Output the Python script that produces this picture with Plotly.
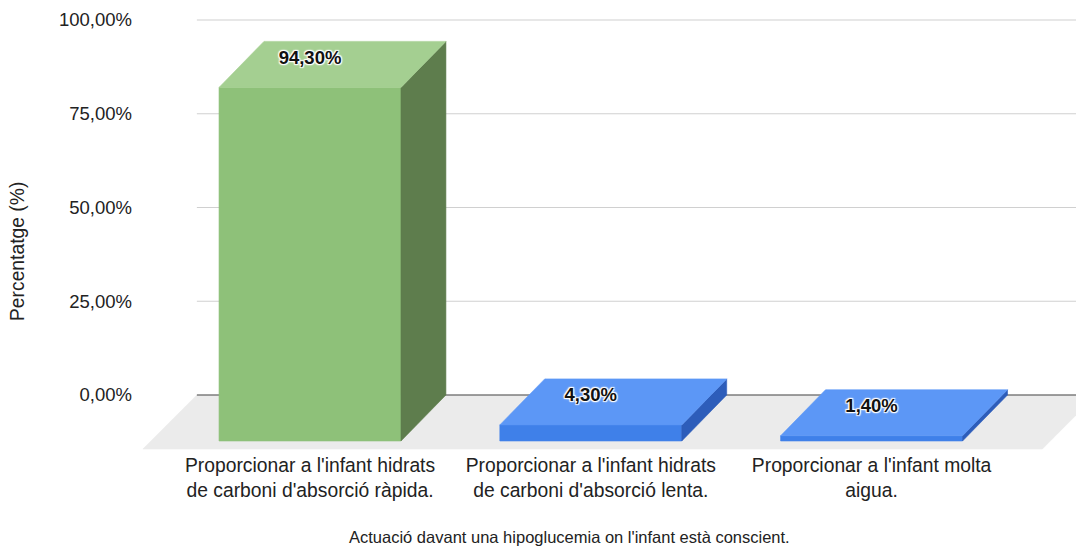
import plotly.graph_objects as go

# Data
categories = [
    "Proporcionar a l'infant hidrats<br>de carboni d'absorció ràpida.",
    "Proporcionar a l'infant hidrats<br>de carboni d'absorció lenta.",
    "Proporcionar a l'infant molta<br>aigua.",
]
values = [94.3, 4.3, 1.4]
y_ticks = [0, 25, 50, 75, 100]
y_tick_labels = [f"{t:.2f}".replace(".", ",") + "%" for t in y_ticks]

# Palette per bar: (front, top, side)
palettes = [
    ("#8ec179", "#a4cf91", "#5e7d4d"),
    ("#3f80e9", "#5c97f6", "#2d5dba"),
    ("#3f80e9", "#5c97f6", "#2d5dba"),
]

# Oblique 3D geometry (data units)
bar_w = 0.648        # front face width
depth_x = 0.160      # horizontal depth shift
depth_y = 12.27      # vertical depth shift
floor_dx = 0.192
floor_dy = 14.4
floor_left = -0.403
floor_right = 2.80

x_range = [-0.6055, 2.728]
y_range = [-15.2, 102.67]

fig = go.Figure()


def face(xs, ys, color):
    fig.add_trace(go.Scatter(
        x=xs + [xs[0]], y=ys + [ys[0]], mode="lines", fill="toself",
        fillcolor=color, line=dict(color=color, width=0.6),
        hoverinfo="skip", showlegend=False))


# floor
face([floor_left - floor_dx, floor_right - floor_dx, floor_right, floor_left],
     [-floor_dy, -floor_dy, 0, 0], "#ebebeb")

# gridlines on the back wall
for t in y_ticks:
    fig.add_trace(go.Scatter(
        x=[floor_left, x_range[1] + 0.1], y=[t, t], mode="lines",
        line=dict(color="#444444" if t == 0 else "#d0d0d0", width=1.2),
        hoverinfo="skip", showlegend=False))

# bars
for i, (v, (c_front, c_top, c_side)) in enumerate(zip(values, palettes)):
    xl, xr = i - bar_w / 2, i + bar_w / 2
    yb, yt = -depth_y, v - depth_y
    face([xl, xr, xr, xl], [yb, yb, yt, yt], c_front)
    face([xr, xr, xr + depth_x, xr + depth_x], [yb, yt, v, 0], c_side)
    face([xl, xr, xr + depth_x, xl + depth_x], [yt, yt, v, v], c_top)

# value labels on the top faces
labels = [f"{v:.2f}".replace(".", ",") + "%" for v in values]
fig.add_trace(go.Scatter(
    x=list(range(len(values))), y=[v - 4.7 for v in values],
    mode="text", text=labels,
    textfont=dict(family="Liberation Sans, Arial", size=18.5, color="#111111",
                  weight="bold",
                  shadow="1px 1px 1px #fff, -1px -1px 1px #fff, 1px -1px 1px #fff, -1px 1px 1px #fff, 0 0 3px #fff"),
    hoverinfo="skip", showlegend=False, cliponaxis=False))

fig.update_layout(
    width=1076, height=550,
    margin=dict(l=140, r=0, t=10, b=98),
    paper_bgcolor="white", plot_bgcolor="white",
    font=dict(family="Liberation Sans, Arial", size=17, color="#222222"),
    xaxis=dict(range=x_range, showgrid=False, zeroline=False, showline=False,
               tickmode="array", tickvals=list(range(len(categories))),
               ticktext=categories, ticks="", tickfont=dict(size=19.3)),
    yaxis=dict(range=y_range, showgrid=False, zeroline=False, showline=False,
               tickmode="array", tickvals=y_ticks, ticktext=y_tick_labels,
               ticks="", ticklabelstandoff=7, tickfont=dict(size=18.5)),
    annotations=[
        dict(text="Percentatge (%)", textangle=-90, xref="paper", yref="paper",
             x=0, xshift=-122, y=0.4525, xanchor="center", yanchor="middle",
             showarrow=False, font=dict(size=19.3)),
        dict(text="Actuació davant una hipoglucemia on l'infant està conscient.",
             xref="paper", yref="paper", x=0.459, y=-0.192,
             xanchor="center", yanchor="middle", showarrow=False,
             font=dict(size=16.5)),
    ],
)

fig.write_html("out.html")
